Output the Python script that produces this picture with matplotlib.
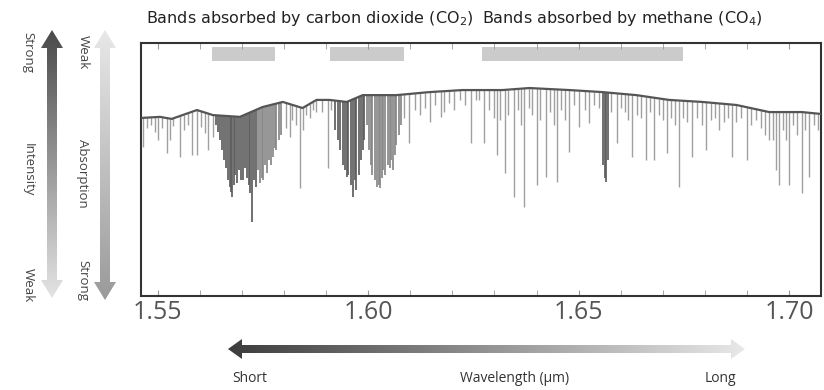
import numpy as np
import matplotlib
matplotlib.use("Agg")
import matplotlib.pyplot as plt
from matplotlib.colors import LinearSegmentedColormap
from matplotlib.patches import Polygon

# continuum level of the spectrum (wavelength in um, relative intensity)
continuum_wl = [1.5463, 1.5505, 1.5533, 1.5593, 1.5631, 1.5695, 1.5749, 1.5797, 1.5844,
                1.5877, 1.5908, 1.5949, 1.5987, 1.6067, 1.6146, 1.6224, 1.6319, 1.6383,
                1.6478, 1.6556, 1.6637, 1.6715, 1.6794, 1.6875, 1.6953, 1.7031, 1.7079]
continuum_i = [0.704, 0.708, 0.700, 0.735, 0.715, 0.708, 0.747, 0.767, 0.743,
               0.775, 0.775, 0.767, 0.794, 0.794, 0.806, 0.814, 0.814, 0.822,
               0.814, 0.806, 0.794, 0.775, 0.767, 0.755, 0.727, 0.727, 0.719]

# absorption lines: centre wavelength and minimum intensity
line_wl = [1.5464, 1.5474, 1.5483, 1.5493, 1.5500, 1.5509, 1.5521, 1.5528, 1.5536, 1.5552,
           1.5562, 1.5571, 1.5581, 1.5593, 1.5602, 1.5612, 1.5619, 1.5631,
           1.5638, 1.5642, 1.5647, 1.5652, 1.5657, 1.5661, 1.5666, 1.5671, 1.5673, 1.5676,
           1.5680, 1.5683, 1.5688, 1.5692, 1.5697, 1.5702, 1.5707, 1.5711, 1.5716, 1.5718,
           1.5723, 1.5728, 1.5733, 1.5737, 1.5742, 1.5747, 1.5749, 1.5754, 1.5759, 1.5763,
           1.5768, 1.5773, 1.5778, 1.5782, 1.5787, 1.5792,
           1.5804, 1.5813, 1.5820, 1.5828, 1.5837, 1.5844, 1.5851, 1.5861, 1.5868, 1.5877,
           1.5889, 1.5904, 1.5911,
           1.5920, 1.5927, 1.5934, 1.5939, 1.5944, 1.5949, 1.5953, 1.5958, 1.5963, 1.5968,
           1.5972, 1.5977, 1.5982, 1.5987, 1.5991, 1.5996, 1.6001, 1.6006, 1.6010, 1.6015,
           1.6020, 1.6025, 1.6027, 1.6032, 1.6036, 1.6041, 1.6046, 1.6051, 1.6055, 1.6058,
           1.6063, 1.6067, 1.6072, 1.6077,
           1.6086, 1.6098, 1.6110, 1.6122, 1.6134, 1.6146, 1.6158, 1.6172, 1.6181, 1.6193,
           1.6205, 1.6217, 1.6229, 1.6245, 1.6255,
           1.6264, 1.6276, 1.6288, 1.6298, 1.6305, 1.6314, 1.6324, 1.6333, 1.6347, 1.6357,
           1.6364, 1.6371, 1.6383, 1.6390, 1.6400, 1.6409, 1.6423, 1.6433, 1.6442, 1.6449,
           1.6459, 1.6468, 1.6478, 1.6490, 1.6502, 1.6514, 1.6525, 1.6537, 1.6549, 1.6559,
           1.6563, 1.6566, 1.6570, 1.6578, 1.6592, 1.6601, 1.6611, 1.6618, 1.6627, 1.6639,
           1.6649, 1.6661, 1.6670, 1.6680, 1.6692, 1.6701, 1.6711, 1.6720, 1.6730, 1.6739,
           1.6749, 1.6758, 1.6770, 1.6782, 1.6794, 1.6803, 1.6815, 1.6825, 1.6834, 1.6846,
           1.6855, 1.6865, 1.6874, 1.6886, 1.6900, 1.6910, 1.6922, 1.6934, 1.6943, 1.6953,
           1.6962, 1.6969, 1.6976, 1.6986, 1.6993, 1.7000, 1.7010, 1.7019, 1.7031, 1.7038,
           1.7048, 1.7060, 1.7069]
line_min = [0.589, 0.664, 0.676, 0.648, 0.617, 0.664, 0.565, 0.617, 0.672, 0.549,
            0.656, 0.676, 0.557, 0.557, 0.668, 0.644, 0.577, 0.628,
            0.676, 0.648, 0.617, 0.577, 0.538, 0.506, 0.458, 0.431, 0.411, 0.391,
            0.439, 0.478, 0.447, 0.498, 0.458, 0.458, 0.506, 0.466, 0.439, 0.407,
            0.292, 0.458, 0.431, 0.498, 0.447, 0.466, 0.458, 0.518, 0.486, 0.538,
            0.518, 0.549, 0.585, 0.577, 0.617, 0.636,
            0.664, 0.628, 0.696, 0.676, 0.427, 0.656, 0.715, 0.704, 0.735, 0.727,
            0.727, 0.506, 0.735,
            0.656, 0.617, 0.577, 0.518, 0.498, 0.470, 0.478, 0.439, 0.391, 0.458,
            0.419, 0.478, 0.538, 0.577, 0.617, 0.676, 0.577, 0.518, 0.478, 0.458,
            0.431, 0.439, 0.427, 0.466, 0.498, 0.478, 0.518, 0.506, 0.538, 0.498,
            0.557, 0.597, 0.636, 0.676,
            0.704, 0.605, 0.735, 0.715, 0.743, 0.688, 0.755, 0.708, 0.727, 0.763,
            0.735, 0.775, 0.755, 0.605, 0.775,
            0.775, 0.605, 0.735, 0.704, 0.557, 0.696, 0.486, 0.715, 0.391, 0.735,
            0.676, 0.352, 0.743, 0.715, 0.439, 0.696, 0.470, 0.727, 0.676, 0.451,
            0.735, 0.696, 0.569, 0.755, 0.668, 0.735, 0.684, 0.755, 0.743, 0.518,
            0.466, 0.451, 0.538, 0.727, 0.605, 0.743, 0.727, 0.696, 0.549, 0.715,
            0.704, 0.538, 0.727, 0.538, 0.715, 0.696, 0.565, 0.704, 0.676, 0.431,
            0.704, 0.688, 0.549, 0.704, 0.676, 0.577, 0.696, 0.704, 0.656, 0.688,
            0.704, 0.549, 0.688, 0.704, 0.538, 0.676, 0.696, 0.664, 0.636, 0.617,
            0.617, 0.498, 0.439, 0.656, 0.617, 0.439, 0.676, 0.636, 0.407, 0.656,
            0.470, 0.676, 0.656]

co2_bands = [(1.5628, 1.5778), (1.5908, 1.6086)]
ch4_bands = [(1.6271, 1.6748)]

tick_values = [1.55, 1.60, 1.65, 1.70]
tick_labels = ["1.55", "1.60", "1.65", "1.70"]

W, H = 824, 390
fig = plt.figure(figsize=(W / 100, H / 100), dpi=100)

# overlay in pixel units for the arrows and captions
deco = fig.add_axes([0, 0, 1, 1])
deco.set_xlim(0, W)
deco.set_ylim(H, 0)
deco.axis("off")
deco.patch.set_alpha(0)


def grad_arrow(ax, x0, y0, x1, y1, c0, c1, shaft=5, head=11, hlen=18):
    # double-headed arrow filled with a linear grey gradient from c0 to c1
    cmap = LinearSegmentedColormap.from_list("g", [c0, c1])
    ramp = np.linspace(0, 1, 256)
    if x0 == x1:
        xc = x0
        pts = [(xc, y0), (xc + head, y0 + hlen), (xc + shaft, y0 + hlen),
               (xc + shaft, y1 - hlen), (xc + head, y1 - hlen), (xc, y1),
               (xc - head, y1 - hlen), (xc - shaft, y1 - hlen),
               (xc - shaft, y0 + hlen), (xc - head, y0 + hlen)]
        img = ramp.reshape(-1, 1)
        extent = (xc - head, xc + head, y1, y0)
    else:
        yc = y0
        pts = [(x0, yc), (x0 + hlen, yc - head), (x0 + hlen, yc - shaft),
               (x1 - hlen, yc - shaft), (x1 - hlen, yc - head), (x1, yc),
               (x1 - hlen, yc + head), (x1 - hlen, yc + shaft),
               (x0 + hlen, yc + shaft), (x0 + hlen, yc + head)]
        img = ramp.reshape(1, -1)
        extent = (x0, x1, yc + head, yc - head)
    poly = Polygon(pts, closed=True, facecolor="none", edgecolor="none")
    ax.add_patch(poly)
    im = ax.imshow(img, cmap=cmap, extent=extent, origin="upper",
                   aspect="auto", interpolation="bilinear")
    im.set_clip_path(poly)


grad_arrow(deco, 52, 30, 52, 298, "#4a4a4a", "#e4e4e4")
grad_arrow(deco, 105, 30, 105, 300, "#e8e8e8", "#9a9a9a")
grad_arrow(deco, 228, 349, 745, 349, "#3c3c3c", "#e8e8e8", shaft=4, head=10, hlen=14)
deco.set_xlim(0, W)
deco.set_ylim(H, 0)

side = dict(rotation=-90, ha="center", va="center", fontsize=9.5,
            color="#444444", family="Open Sans")
deco.text(28, 53, "Strong", **side)
deco.text(28, 170, "Intensity", **side)
deco.text(28, 285, "Weak", **side)
deco.text(83, 52, "Weak", **side)
deco.text(83, 173, "Absorption", **side)
deco.text(83, 280, "Strong", **side)

low = dict(ha="center", va="center", fontsize=10, color="#333333", family="Open Sans")
deco.text(250, 378, "Short", **low)
deco.text(515, 378, "Wavelength (μm)", **low)
deco.text(720, 378, "Long", **low)

top = dict(ha="left", va="center", fontsize=11.5, color="#222222")
deco.text(146, 18, "Bands absorbed by carbon dioxide (CO$_2$)", **top)
deco.text(482, 18, "Bands absorbed by methane (CO$_4$)", **top)

# spectrum panel
ax = fig.add_axes([141 / W, 94 / H, 680 / W, 253 / H])
ax.set_xlim(1.5460, 1.7076)
ax.set_ylim(0, 1)

for a, b in co2_bands + ch4_bands:
    ax.axvspan(a, b, ymin=0.929, ymax=0.984, color="#cbcbcb", lw=0)

wl = np.array(line_wl)
lo = np.array(line_min)
tops = np.interp(wl, continuum_wl, continuum_i)

# band cores are drawn darker and a little wider so the dense lines merge
dark = [(1.5636, 1.5735), (1.5915, 1.5995), (1.6555, 1.6572)]
mid = [(1.5735, 1.5795), (1.5995, 1.6080)]
colors, widths = [], []
for w in wl:
    if any(a <= w <= b for a, b in dark):
        colors.append("#5e5e5e")
        widths.append(1.25)
    elif any(a <= w <= b for a, b in mid):
        colors.append("#888888")
        widths.append(1.25)
    else:
        colors.append("#a0a0a0")
        widths.append(1.0)
ax.vlines(wl, lo, tops, colors=colors, linewidths=widths, zorder=2)
ax.plot(continuum_wl, continuum_i, color="#555555", lw=1.6, zorder=3)

for s in ax.spines.values():
    s.set_color("#333333")
    s.set_linewidth(1.5)
ax.set_yticks([])
ax.set_xticks(tick_values)
ax.set_xticklabels(tick_labels, family="Open Sans")
ax.set_xticks(np.arange(1.55, 1.705, 0.01), minor=True)
ax.tick_params(axis="x", which="both", direction="in", top=True, length=4,
               color="#999999", labelsize=18, labelcolor="#555555", pad=3)

fig.savefig("out.png", dpi=100)
